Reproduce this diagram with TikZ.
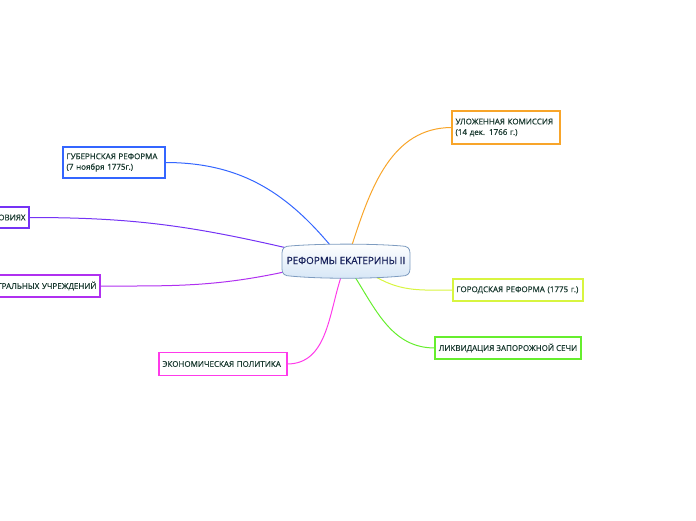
\documentclass[tikz,border=0pt]{standalone}
\usepackage{fontspec}
\setmainfont{Open Sans}
\newfontfamily\nodefont[FakeBold=0.5]{Open Sans}
\begin{document}
\begin{tikzpicture}[x=1pt,y=-1pt,
  mbox/.style={fill=white, text=txt, outer sep=0pt, inner xsep=3.5pt, inner ysep=3pt,
    font=\nodefont\fontsize{8}{10.5}\selectfont, align=left, minimum height=22pt},
  frame/.style={draw=#1, line width=1.1pt},
  link/.style={draw=#1, line width=1pt},
  cshape/.style={draw=cborder, line width=0.8pt, top color=white, bottom color=cfill},
  central/.style={minimum width=128pt, minimum height=33pt, text=ctext, font=\nodefont\fontsize{9.9}{12}\selectfont}]
\definecolor{txt}{HTML}{1A3A30}
\definecolor{ctext}{HTML}{16205A}
\definecolor{cborder}{HTML}{7E9CC0}
\definecolor{cfill}{HTML}{D6E6F6}
\definecolor{corange}{HTML}{F8A52A}
\definecolor{cblue}{HTML}{3466FF}
\definecolor{cpurple}{HTML}{7533F5}
\definecolor{cviolet}{HTML}{B030F0}
\definecolor{cmagenta}{HTML}{FF3AEA}
\definecolor{cyellow}{HTML}{D8F540}
\definecolor{cgreen}{HTML}{66EE2E}
\useasboundingbox (0,0) rectangle (696,520);
\clip (0,0) rectangle (696,520);

% nodes
\node[mbox, anchor=west, text width=101pt, minimum height=33pt] (n1) at (452,127.5) {УЛОЖЕННАЯ КОМИССИЯ\\(14 дек. 1766 г.)};
\node[mbox, anchor=west, text width=95pt, minimum height=31pt] (n2) at (63,162.5) {ГУБЕРНСКАЯ РЕФОРМА\\(7 ноября 1775г.)};
\node[mbox, anchor=east, text width=80pt, align=right, minimum height=21pt] (n3) at (29,217.5) {ОВИЯХ};
\node[mbox, anchor=east, text width=130pt, align=right, minimum height=22pt] (n4) at (100,286) {ТРАЛЬНЫХ УЧРЕЖДЕНИЙ};
\node[mbox, anchor=west, text width=121pt, minimum height=23pt] (n5) at (159,364) {ЭКОНОМИЧЕСКАЯ ПОЛИТИКА};
\node[mbox, anchor=west, text width=123pt] (n6) at (453,290) {ГОРОДСКАЯ РЕФОРМА (1775 г.)};
\node[mbox, anchor=west, minimum width=146pt, inner xsep=2pt] (n7) at (435,348) {ЛИКВИДАЦИЯ ЗАПОРОЖНОЙ СЕЧИ};

% box frames
\foreach \n/\c in {n1/corange, n2/cblue, n3/cpurple, n4/cviolet, n5/cmagenta, n6/cyellow, n7/cgreen}
  \draw[frame=\c] (\n.south west) rectangle (\n.north east);

% connectors (behind central)
\coordinate (s1) at (352,245);
\coordinate (s2) at (330,245);
\coordinate (s3) at (287,248);
\coordinate (s4) at (284,272);
\coordinate (s5) at (341,277);
\coordinate (s6) at (376,277);
\coordinate (s7) at (355,277);
\draw[link=corange] (s1) to[out=72,in=180] (n1.west);
\draw[link=cblue] (n2.east) to[out=0,in=130] (s2);
\draw[link=cpurple] (n3.east) to[out=0,in=167] (s3);
\draw[link=cviolet] (n4.east) to[out=0,in=192] (s4);
\draw[link=cmagenta] (n5.east) to[out=0,in=252] (s5);
\draw[link=cyellow] (n6.west) to[out=180,in=-30] (s6);
\draw[link=cgreen] (n7.west) to[out=180,in=-58] (s7);

% central topic
\path[cshape] (282,253) -- (282,269) .. controls (282,274) and (285,276) .. (290,276)
  .. controls (320,279) and (372,279) .. (402,276)
  .. controls (407,276) and (410,274) .. (410,269) -- (410,253)
  .. controls (410,248) and (407,246) .. (402,246)
  .. controls (372,243.5) and (320,243.5) .. (290,246)
  .. controls (285,246) and (282,248) .. (282,253) -- cycle;
\node[central] (c) at (346,260.5) {РЕФОРМЫ ЕКАТЕРИНЫ II};
\end{tikzpicture}
\end{document}
